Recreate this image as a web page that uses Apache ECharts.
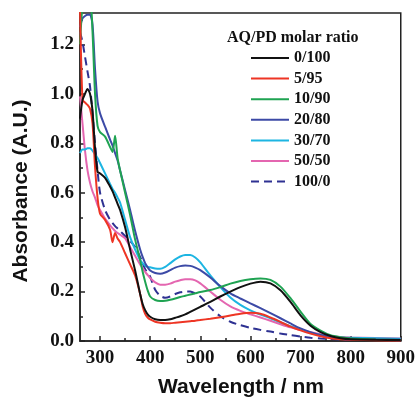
<!DOCTYPE html>
<html><head><meta charset="utf-8">
<script src="https://cdn.jsdelivr.net/npm/echarts@6/dist/echarts.min.js"></script>
<style>html,body{margin:0;padding:0;background:#fff}#c{width:418px;height:398px}</style>
</head><body><div id="c"></div>
<script>
// Wavelength grid (nm)
const wavelengths = [260,265,270,275,280,285,290,295,300,310,320,325,330,335,340,350,360,370,380,385,390,395,400,410,420,430,440,450,460,470,480,490,500,520,540,560,580,600,620,640,660,680,700,720,740,760,780,800,850,900];

// Absorbance values for each AQ/PD molar ratio
const abs_0_100 = [0.90,0.975,1.00,1.02,1.00,0.93,0.78,0.685,0.678,0.66,0.625,0.605,0.58,0.555,0.53,0.46,0.37,0.285,0.19,0.15,0.125,0.108,0.098,0.088,0.085,0.085,0.088,0.094,0.100,0.108,0.118,0.128,0.138,0.158,0.180,0.200,0.218,0.232,0.240,0.233,0.205,0.158,0.104,0.062,0.036,0.020,0.011,0.007,0.005,0.004];
const abs_5_95 = [1.35,0.975,0.965,0.955,0.94,0.88,0.705,0.58,0.515,0.49,0.45,0.40,0.437,0.415,0.40,0.355,0.31,0.265,0.19,0.14,0.11,0.095,0.087,0.078,0.074,0.072,0.072,0.074,0.076,0.078,0.080,0.082,0.085,0.090,0.096,0.103,0.110,0.114,0.110,0.095,0.077,0.058,0.043,0.030,0.019,0.011,0.007,0.005,0.003,0.002];
const abs_10_90 = [1.20,1.36,1.40,1.40,1.40,1.25,1.00,0.87,0.845,0.827,0.785,0.765,0.83,0.74,0.69,0.60,0.51,0.41,0.327,0.28,0.24,0.205,0.18,0.166,0.162,0.163,0.167,0.172,0.178,0.183,0.188,0.193,0.198,0.206,0.218,0.232,0.243,0.250,0.253,0.247,0.220,0.173,0.119,0.069,0.042,0.023,0.015,0.010,0.006,0.004];
const abs_20_80 = [1.27,1.305,1.315,1.32,1.32,1.28,1.10,0.97,0.921,0.867,0.815,0.79,0.76,0.73,0.69,0.61,0.53,0.445,0.37,0.34,0.315,0.298,0.285,0.275,0.272,0.277,0.287,0.297,0.303,0.305,0.304,0.297,0.287,0.257,0.222,0.193,0.172,0.152,0.133,0.113,0.092,0.071,0.051,0.036,0.024,0.016,0.012,0.010,0.007,0.005];
const abs_30_70 = [0.76,0.775,0.775,0.78,0.78,0.77,0.755,0.74,0.72,0.678,0.635,0.615,0.60,0.58,0.56,0.49,0.42,0.37,0.328,0.315,0.305,0.30,0.298,0.293,0.292,0.30,0.315,0.33,0.342,0.348,0.348,0.338,0.318,0.265,0.218,0.176,0.146,0.124,0.107,0.092,0.076,0.060,0.046,0.034,0.024,0.017,0.014,0.013,0.011,0.009];
const abs_50_50 = [0.99,0.88,0.77,0.69,0.64,0.605,0.58,0.55,0.53,0.495,0.468,0.456,0.445,0.437,0.43,0.415,0.38,0.345,0.31,0.295,0.28,0.267,0.255,0.237,0.228,0.228,0.232,0.24,0.246,0.25,0.25,0.245,0.233,0.20,0.167,0.14,0.122,0.108,0.095,0.082,0.068,0.055,0.045,0.035,0.027,0.020,0.016,0.014,0.012,0.010];
const abs_100_0 = [1.25,1.21,1.15,1.09,1.03,0.92,0.80,0.69,0.60,0.53,0.49,0.477,0.465,0.455,0.445,0.425,0.405,0.38,0.34,0.315,0.29,0.275,0.26,0.207,0.183,0.175,0.18,0.19,0.197,0.20,0.20,0.192,0.18,0.135,0.10,0.078,0.064,0.053,0.045,0.038,0.030,0.024,0.018,0.013,0.010,0.008,0.006,0.005,0.004,0.003];

const seriesNames = ['0/100','5/95','10/90','20/80','30/70','50/50','100/0'];
const seriesValues = [abs_0_100, abs_5_95, abs_10_90, abs_20_80, abs_30_70, abs_50_50, abs_100_0];
const seriesColors = ['#111111','#ee3524','#1fa352','#3c4aa6','#1db5e2','#e466b0','#2e3192'];

const xMajorTicks = [300,400,500,600,700,800,900];
const xMinorTicks = [350,450,550,650,750,850];
const yMajorTicks = [0,0.2,0.4,0.6,0.8,1.0,1.2];
const yMinorTicks = [0.1,0.3,0.5,0.7,0.9,1.1,1.3];

const X_MIN = 260, X_MAX = 900, Y_MIN = 0, Y_MAX = 1.327;
const serif = '"Liberation Serif","Times New Roman",serif';
const sans = '"Liberation Sans",Arial,sans-serif';

const chart = echarts.init(document.getElementById('c'), null, {renderer:'canvas'});

const series = seriesNames.map((name, i) => ({
  name,
  type: 'line',
  xAxisIndex: 0, yAxisIndex: 0,
  data: wavelengths.map((w, k) => [w, seriesValues[i][k]]),
  showSymbol: false, symbol: 'none',
  smooth: 0.25,
  clip: true,
  lineStyle: { color: seriesColors[i], width: 2, type: name === '100/0' ? [8,5] : 'solid' },
  itemStyle: { color: seriesColors[i] },
  z: 10 - i
}));

chart.setOption({
  animation: false,
  backgroundColor: '#fff',
  grid: { left: 80, right: 16.5, top: 13, bottom: 57, show: true, borderColor: '#222', borderWidth: 1.5, backgroundColor: 'transparent' },
  xAxis: [
    { type: 'value', position: 'bottom', min: X_MIN, max: X_MAX,
      axisLine: { show: true, onZero: false, lineStyle: { color: '#222', width: 1.5 } },
      axisTick: { show: true, inside: true, length: 5, customValues: xMajorTicks, lineStyle: { color: '#222', width: 1.5 } },
      axisLabel: { show: true, customValues: xMajorTicks, margin: 8, color: '#111', fontFamily: serif, fontWeight: 'bold', fontSize: 19 },
      splitLine: { show: false } },
    { type: 'value', position: 'bottom', min: X_MIN, max: X_MAX,
      axisLine: { show: false, onZero: false },
      axisTick: { show: true, inside: true, length: 3, customValues: xMinorTicks, lineStyle: { color: '#222', width: 1.5 } },
      axisLabel: { show: false }, splitLine: { show: false } }
  ],
  yAxis: [
    { type: 'value', position: 'left', min: Y_MIN, max: Y_MAX,
      axisLine: { show: true, onZero: false, lineStyle: { color: '#222', width: 1.5 } },
      axisTick: { show: true, inside: true, length: 5, customValues: yMajorTicks, lineStyle: { color: '#222', width: 1.5 } },
      axisLabel: { show: true, customValues: yMajorTicks, margin: 6, color: '#111', fontFamily: serif, fontWeight: 'bold', fontSize: 19,
        formatter: v => Number(v).toFixed(1) },
      splitLine: { show: false } },
    { type: 'value', position: 'left', min: Y_MIN, max: Y_MAX,
      axisLine: { show: false, onZero: false },
      axisTick: { show: true, inside: true, length: 3, customValues: yMinorTicks, lineStyle: { color: '#222', width: 1.5 } },
      axisLabel: { show: false }, splitLine: { show: false } }
  ],
  legend: {
    data: seriesNames,
    orient: 'vertical', left: 245, top: 45,
    itemWidth: 38, itemHeight: 16, itemGap: 4.6,
    itemStyle: { color: 'transparent', borderColor: 'transparent', borderWidth: 0, opacity: 0 },
    textStyle: { fontFamily: serif, fontWeight: 'bold', fontSize: 16, color: '#111' }
  },
  graphic: [
    { type: 'text', left: 227, top: 30, style: { text: 'AQ/PD molar ratio', font: 'bold 16px ' + serif, fill: '#111' } },
    { type: 'text', x: 241, y: 387, style: { text: 'Wavelength / nm', font: 'bold 21px ' + sans, fill: '#111', textAlign: 'center', textVerticalAlign: 'middle' } },
    { type: 'text', x: 21, y: 191, rotation: Math.PI / 2, style: { text: 'Absorbance (A.U.)', font: 'bold 21px ' + sans, fill: '#111', textAlign: 'center', textVerticalAlign: 'middle' } }
  ],
  series
});
</script></body></html>
